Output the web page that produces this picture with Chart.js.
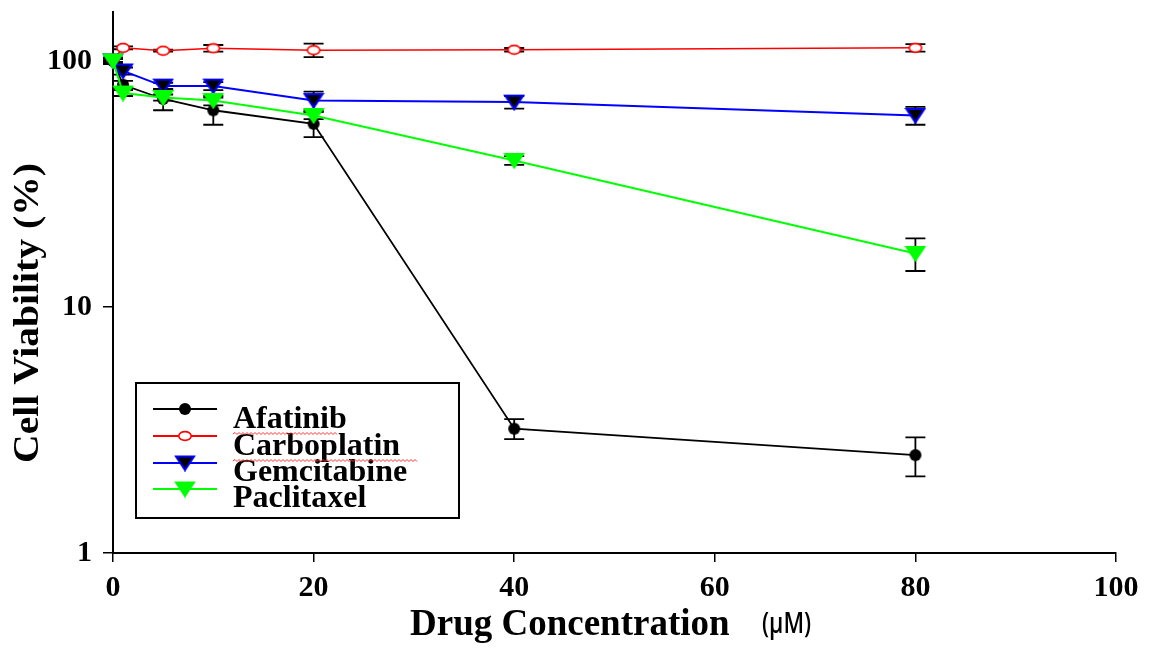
<!DOCTYPE html>
<html>
<head>
<meta charset="utf-8">
<script src="https://cdn.jsdelivr.net/npm/chart.js@4/dist/chart.umd.min.js"></script>
<style>
  html, body { margin: 0; padding: 0; background: #fff; }
  canvas { display: block; }
</style>
</head>
<body>
<canvas id="c" width="1152" height="650"></canvas>
<script>
// Drug concentrations (µM)
const concentrations = [0, 1, 5, 10, 20, 40, 80];

// Cell viability (%) per drug, with standard error
const afatinib       = [100, 80, 70, 63, 55.5, 3.2, 2.5];
const afatinibErr    = [2, 3, 7, 8, 6.5, 0.3, 0.45];
const carboplatin    = [101, 113, 110, 112.5, 110.5, 111, 113];
const carboplatinErr = [2, 1.5, 1, 3.5, 7, 1.8, 4];
const gemcitabine    = [100, 91, 79, 79, 69, 68, 60];
const gemcitabineErr = [2, 3, 2.5, 3, 6, 4, 5];
const paclitaxel     = [100, 74, 71, 69, 60, 39.4, 16.5];
const paclitaxelErr  = [3, 2, 2, 3, 2, 1.6, 2.5];

const seriesNames = ['Afatinib', 'Carboplatin', 'Gemcitabine', 'Paclitaxel'];
const xTickValues = [0, 20, 40, 60, 80, 100];
const yTickValues = [1, 10, 100];
const xTitle = 'Drug Concentration';
const xUnit = '(\u00B5M)';
const yTitle = 'Cell Viability (%)';

const SERIF = '"Liberation Serif", "Times New Roman", serif';

// ---- marker glyphs -------------------------------------------------------
function dotMarker(color) {
  const c = document.createElement('canvas');
  c.width = 14; c.height = 14;
  const g = c.getContext('2d');
  g.fillStyle = color;
  g.beginPath(); g.arc(7, 7, 6, 0, Math.PI * 2); g.fill();
  return c;
}
function ringMarker(color) {
  const c = document.createElement('canvas');
  c.width = 16; c.height = 12;
  const g = c.getContext('2d');
  g.fillStyle = '#fff'; g.strokeStyle = color; g.lineWidth = 1.6;
  g.beginPath(); g.ellipse(8, 6, 6.2, 4.4, 0, 0, Math.PI * 2); g.fill(); g.stroke();
  return c;
}
function downTriangle(fill, stroke) {
  const c = document.createElement('canvas');
  c.width = 22; c.height = 17;
  const g = c.getContext('2d');
  g.fillStyle = fill; g.strokeStyle = stroke; g.lineWidth = 2; g.lineJoin = 'miter';
  g.beginPath(); g.moveTo(2, 2); g.lineTo(20, 2); g.lineTo(11, 15.5); g.closePath();
  g.fill(); g.stroke();
  return c;
}

const markers = [
  dotMarker('#000'),
  ringMarker('#ff0000'),
  downTriangle('#000', '#0000ff'),
  downTriangle('#00ff00', '#00ff00')
];

function series(i, values, errs, color, width, order) {
  return {
    label: seriesNames[i],
    data: concentrations.map((x, k) => ({ x: x, y: values[k] })),
    errors: errs,
    borderColor: color,
    backgroundColor: color,
    borderWidth: width,
    pointStyle: markers[i],
    pointRadius: 7,
    tension: 0,
    clip: false,
    order: order
  };
}

// ---- error bars ----------------------------------------------------------
const errorBars = {
  id: 'errorBars',
  beforeDatasetsDraw(chart) {
    const ctx = chart.ctx, xs = chart.scales.x, ys = chart.scales.y;
    ctx.save();
    ctx.strokeStyle = '#000';
    ctx.lineWidth = 1.8;
    chart.data.datasets.forEach(ds => {
      ds.data.forEach((p, k) => {
        const e = ds.errors[k];
        const x = xs.getPixelForValue(p.x);
        const yTop = ys.getPixelForValue(p.y + e);
        const yBot = ys.getPixelForValue(p.y - e);
        ctx.beginPath();
        ctx.moveTo(x, yTop); ctx.lineTo(x, yBot);
        ctx.moveTo(x - 10, yTop); ctx.lineTo(x + 10, yTop);
        ctx.moveTo(x - 10, yBot); ctx.lineTo(x + 10, yBot);
        ctx.stroke();
      });
    });
    ctx.restore();
  }
};

// ---- titles and boxed legend ---------------------------------------------
function squiggle(ctx, x0, x1, y) {
  ctx.beginPath();
  let up = true;
  ctx.moveTo(x0, y);
  for (let x = x0 + 2; x <= x1; x += 2) {
    ctx.lineTo(x, up ? y - 1.5 : y + 0.5);
    up = !up;
  }
  ctx.stroke();
}

const decorations = {
  id: 'decorations',
  afterDraw(chart) {
    const ctx = chart.ctx;
    ctx.save();
    ctx.fillStyle = '#000';

    // x-axis title
    ctx.textAlign = 'left';
    ctx.textBaseline = 'alphabetic';
    ctx.font = 'bold 37px ' + SERIF;
    ctx.fillText(xTitle, 410, 635);
    ctx.save();
    ctx.translate(762, 633);
    ctx.scale(0.8, 1);
    ctx.font = '600 28px "Open Sans", "Liberation Sans", sans-serif';
    ctx.fillText(xUnit, 0, 0);
    ctx.restore();

    // y-axis title
    ctx.save();
    ctx.translate(38, 313);
    ctx.rotate(-Math.PI / 2);
    ctx.scale(1.1, 1);
    ctx.textAlign = 'center';
    ctx.font = 'bold 36px ' + SERIF;
    ctx.fillText(yTitle, 0, 0);
    ctx.restore();

    // legend box
    const bx = 136, by = 383, bw = 323, bh = 135;
    ctx.strokeStyle = '#000';
    ctx.lineWidth = 2;
    ctx.strokeRect(bx, by, bw, bh);

    const lineYs = [409, 436, 463, 489];
    const textYs = [428, 455, 481, 507];
    chart.data.datasets.forEach((ds, i) => {
      ctx.strokeStyle = ds.borderColor;
      ctx.lineWidth = 2;
      ctx.beginPath();
      ctx.moveTo(153, lineYs[i]); ctx.lineTo(217, lineYs[i]);
      ctx.stroke();
      const m = ds.pointStyle;
      ctx.drawImage(m, 185 - m.width / 2, lineYs[i] - m.height / 2);
      ctx.fillStyle = '#000';
      ctx.font = 'bold 32px ' + SERIF;
      ctx.textAlign = 'left';
      ctx.fillText(ds.label, 233, textYs[i]);
    });

    // proofing underlines beneath two of the names
    ctx.strokeStyle = '#ff3030';
    ctx.lineWidth = 1;
    squiggle(ctx, 233, 338, 434);
    squiggle(ctx, 233, 417, 461);

    ctx.restore();
  }
};

// scales keep a fixed footprint so the plot area sits where it should
function noScalePadding(s) {
  s.paddingTop = 0; s.paddingBottom = 0; s.paddingLeft = 0; s.paddingRight = 0;
}

new Chart(document.getElementById('c'), {
  type: 'line',
  data: {
    datasets: [
      series(0, afatinib, afatinibErr, '#000000', 1.8, 2),
      series(1, carboplatin, carboplatinErr, '#ff0000', 1.6, 3),
      series(2, gemcitabine, gemcitabineErr, '#0000ff', 2, 1),
      series(3, paclitaxel, paclitaxelErr, '#00ff00', 2, 0)
    ]
  },
  options: {
    responsive: false,
    animation: false,
    devicePixelRatio: 1,
    layout: { padding: { top: 12, right: 36, left: 0, bottom: 0 } },
    plugins: { legend: { display: false }, tooltip: { enabled: false } },
    scales: {
      x: {
        type: 'linear',
        min: 0, max: 100,
        afterBuildTicks: s => { s.ticks = xTickValues.map(v => ({ value: v })); },
        afterFit: s => { s.height = 97; noScalePadding(s); },
        ticks: {
          font: { family: SERIF, size: 30, weight: 'bold' },
          color: '#000', padding: 8, maxRotation: 0, autoSkip: false
        },
        grid: { drawOnChartArea: false, drawTicks: true, tickLength: 9, color: '#000', lineWidth: 1.5 },
        border: { display: true, color: '#000', width: 2 }
      },
      y: {
        type: 'logarithmic',
        min: 1, max: 158,
        afterBuildTicks: s => { s.ticks = yTickValues.map(v => ({ value: v })); },
        afterFit: s => { s.width = 113; noScalePadding(s); },
        ticks: {
          font: { family: SERIF, size: 30, weight: 'bold' },
          color: '#000', padding: 11, autoSkip: false,
          callback: v => String(v)
        },
        grid: { drawOnChartArea: false, drawTicks: true, tickLength: 10, color: '#000', lineWidth: 1.5 },
        border: { display: true, color: '#000', width: 2 }
      }
    }
  },
  plugins: [errorBars, decorations]
});
</script>
</body>
</html>
